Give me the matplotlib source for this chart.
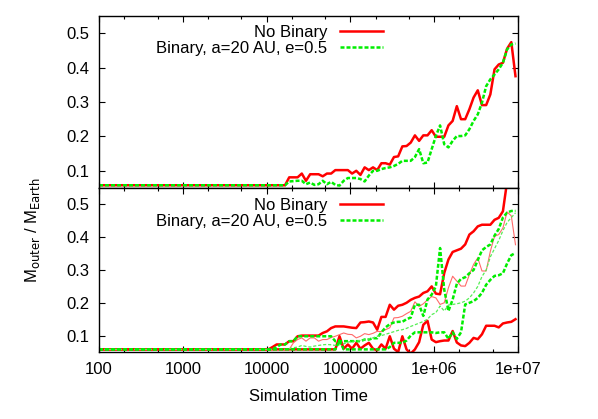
import matplotlib
matplotlib.use('Agg')
import matplotlib.pyplot as plt
from matplotlib.ticker import LogLocator, NullFormatter, FixedLocator

plt.rcParams['font.family'] = ['Liberation Sans', 'DejaVu Sans']
plt.rcParams['font.size'] = 12

# output times: first sample at 100, then ~20 samples per decade from 1e4
mant = [1.047, 1.175, 1.318, 1.479, 1.660, 1.862, 2.089, 2.344, 2.630, 2.951,
        3.311, 3.715, 4.169, 4.677, 5.248, 5.888, 6.607, 7.413, 8.318, 9.333]
times = [100] + [m * 10**e for e in (4, 5, 6) for m in mant]

# top panel: single runs
top_nobin = [0.058,
             0.058, 0.058, 0.058, 0.058, 0.058, 0.081, 0.081, 0.081, 0.092, 0.071,
             0.090, 0.090, 0.090, 0.084, 0.092, 0.092, 0.102, 0.102, 0.102, 0.102,
             0.092, 0.100, 0.088, 0.110, 0.102, 0.110, 0.102, 0.122, 0.122, 0.118,
             0.140, 0.142, 0.171, 0.172, 0.182, 0.203, 0.187, 0.203, 0.203, 0.218,
             0.199, 0.199, 0.199, 0.232, 0.245, 0.288, 0.250, 0.250, 0.279, 0.313,
             0.334, 0.291, 0.291, 0.322, 0.395, 0.409, 0.414, 0.455, 0.474, 0.375]
top_bin = [0.058,
           0.058, 0.058, 0.058, 0.058, 0.058, 0.069, 0.070, 0.071, 0.071, 0.061,
           0.066, 0.059, 0.061, 0.071, 0.061, 0.068, 0.059, 0.057, 0.071, 0.079,
           0.079, 0.079, 0.076, 0.069, 0.086, 0.100, 0.100, 0.105, 0.108, 0.110,
           0.114, 0.120, 0.129, 0.129, 0.129, 0.140, 0.163, 0.122, 0.124, 0.163,
           0.201, 0.232, 0.177, 0.168, 0.187, 0.201, 0.201, 0.203, 0.221, 0.245,
           0.264, 0.298, 0.346, 0.366, 0.380, 0.395, 0.414, 0.453, 0.467, 0.470]

# bottom panel: upper / median / lower of the runs
nobin_hi = [0.058,
            0.058, 0.065, 0.073, 0.073, 0.073, 0.083, 0.083, 0.098, 0.100, 0.100,
            0.100, 0.100, 0.100, 0.108, 0.113, 0.123, 0.128, 0.128, 0.128, 0.126,
            0.124, 0.123, 0.140, 0.141, 0.143, 0.140, 0.118, 0.157, 0.157, 0.194,
            0.179, 0.191, 0.194, 0.200, 0.209, 0.215, 0.219, 0.230, 0.235, 0.250,
            0.228, 0.226, 0.291, 0.332, 0.355, 0.360, 0.365, 0.378, 0.408, 0.418,
            0.433, 0.438, 0.438, 0.438, 0.453, 0.459, 0.479, 0.570, 0.600, 0.620]
nobin_mid = [0.058,
             0.058, 0.058, 0.058, 0.058, 0.058, 0.058, 0.078, 0.088, 0.093, 0.083,
             0.093, 0.093, 0.083, 0.088, 0.088, 0.094, 0.098, 0.103, 0.108, 0.104,
             0.103, 0.093, 0.098, 0.106, 0.103, 0.107, 0.113, 0.112, 0.118, 0.124,
             0.154, 0.155, 0.159, 0.167, 0.174, 0.203, 0.189, 0.197, 0.209, 0.219,
             0.215, 0.195, 0.200, 0.246, 0.281, 0.266, 0.251, 0.251, 0.286, 0.317,
             0.337, 0.297, 0.297, 0.357, 0.403, 0.408, 0.428, 0.477, 0.465, 0.377]
nobin_lo = [0.058,
            0.058, 0.058, 0.058, 0.058, 0.058, 0.058, 0.058, 0.058, 0.058, 0.058,
            0.058, 0.058, 0.058, 0.058, 0.058, 0.058, 0.058, 0.098, 0.060, 0.073,
            0.060, 0.078, 0.060, 0.070, 0.078, 0.060, 0.055, 0.073, 0.060, 0.098,
            0.060, 0.050, 0.098, 0.058, 0.045, 0.058, 0.080, 0.133, 0.145, 0.088,
            0.080, 0.083, 0.085, 0.085, 0.114, 0.079, 0.070, 0.068, 0.078, 0.093,
            0.089, 0.104, 0.130, 0.130, 0.130, 0.125, 0.137, 0.140, 0.142, 0.150]
bin_hi = [0.058,
          0.058, 0.058, 0.065, 0.073, 0.073, 0.083, 0.083, 0.098, 0.098, 0.098,
          0.098, 0.098, 0.098, 0.098, 0.098, 0.098, 0.083, 0.083, 0.083, 0.083,
          0.083, 0.083, 0.083, 0.088, 0.088, 0.092, 0.092, 0.110, 0.125, 0.135,
          0.140, 0.142, 0.142, 0.150, 0.155, 0.194, 0.194, 0.160, 0.210, 0.225,
          0.250, 0.367, 0.240, 0.175, 0.210, 0.258, 0.273, 0.278, 0.290, 0.300,
          0.330, 0.360, 0.370, 0.378, 0.405, 0.425, 0.460, 0.475, 0.480, 0.480]
bin_mid = [0.058,
           0.058, 0.058, 0.058, 0.058, 0.058, 0.060, 0.063, 0.065, 0.070, 0.067,
           0.065, 0.068, 0.070, 0.072, 0.073, 0.072, 0.070, 0.072, 0.075, 0.080,
           0.083, 0.083, 0.085, 0.087, 0.090, 0.093, 0.098, 0.100, 0.104, 0.108,
           0.112, 0.116, 0.118, 0.122, 0.128, 0.133, 0.138, 0.143, 0.150, 0.164,
           0.170, 0.190, 0.175, 0.193, 0.195, 0.197, 0.200, 0.205, 0.215, 0.230,
           0.250, 0.280, 0.300, 0.340, 0.365, 0.390, 0.420, 0.445, 0.460, 0.474]
bin_lo = [0.058,
          0.058, 0.058, 0.058, 0.058, 0.058, 0.058, 0.058, 0.058, 0.058, 0.058,
          0.058, 0.058, 0.058, 0.058, 0.058, 0.058, 0.058, 0.085, 0.058, 0.058,
          0.058, 0.058, 0.058, 0.058, 0.058, 0.058, 0.058, 0.058, 0.058, 0.065,
          0.078, 0.078, 0.078, 0.085, 0.100, 0.110, 0.110, 0.110, 0.110, 0.110,
          0.108, 0.110, 0.110, 0.090, 0.110, 0.090, 0.110, 0.195, 0.200, 0.205,
          0.215, 0.230, 0.255, 0.270, 0.282, 0.284, 0.290, 0.320, 0.345, 0.352]

yticks = [0.1, 0.2, 0.3, 0.4, 0.5]
xtick_labels = ['100', '1000', '10000', '100000', '1e+06', '1e+07']

RED = '#ff0000'
GREEN = '#00ee00'
dash = (0, (1.6, 0.8))

fig = plt.figure(figsize=(5.98, 4.19), dpi=100)
W, H = 598, 419
ax1 = fig.add_axes([99 / W, (H - 188) / H, 419 / W, 172 / H])
ax2 = fig.add_axes([99 / W, (H - 352) / H, 419 / W, 164 / H])

ax1.plot(times, top_nobin, color=RED, lw=1.8, label='No Binary')
ax1.plot(times, top_bin, color=GREEN, lw=1.8, ls=dash, label='Binary, a=20 AU, e=0.5')

ax2.plot(times, nobin_hi, color=RED, lw=1.8, label='No Binary')
ax2.plot(times, nobin_mid, color='#ff6a6a', lw=0.8)
ax2.plot(times, nobin_lo, color=RED, lw=1.8)
ax2.plot(times, bin_hi, color=GREEN, lw=1.8, ls=dash, label='Binary, a=20 AU, e=0.5')
ax2.plot(times, bin_mid, color='#55ee55', lw=0.9, ls=(0, (2.5, 1.5)))
ax2.plot(times, bin_lo, color=GREEN, lw=1.8, ls=dash)

legend_top = {ax1: 0.948, ax2: 0.94}
for ax in (ax1, ax2):
    ax.set_xscale('log')
    ax.set_xlim(100, 1e7)
    ax.set_ylim(0.05, 0.55)
    ax.set_yticks(yticks)
    ax.set_yticklabels([f'{v:.1f}' for v in yticks])
    ax.xaxis.set_major_locator(FixedLocator([1e2, 1e3, 1e4, 1e5, 1e6, 1e7]))
    ax.xaxis.set_minor_locator(LogLocator(base=10, subs=(2.0, 5.0)))
    ax.xaxis.set_minor_formatter(NullFormatter())
    ax.tick_params(which='both', direction='in', top=True, right=True)
    ax.tick_params(which='major', length=4, width=0.8, pad=7)
    ax.tick_params(which='minor', length=2.5, width=0.8)
    for s in ax.spines.values():
        s.set_linewidth(1.0)
    ax.legend(loc='upper right', bbox_to_anchor=(0.678, legend_top[ax]), frameon=False,
              markerfirst=False, handlelength=2.6, handletextpad=0.75,
              labelspacing=0.05, borderaxespad=0, borderpad=0, fontsize=12)

ax1.set_xticklabels([])
ax2.set_xticklabels(xtick_labels)
ax2.set_xlabel('Simulation Time', labelpad=9)

fig.text(32 / W, 1 - 230 / H, r'M$_{\mathrm{outer}}$ / M$_{\mathrm{Earth}}$',
         rotation=90, ha='center', va='center', fontsize=12)

fig.savefig('out.png', dpi=100)
